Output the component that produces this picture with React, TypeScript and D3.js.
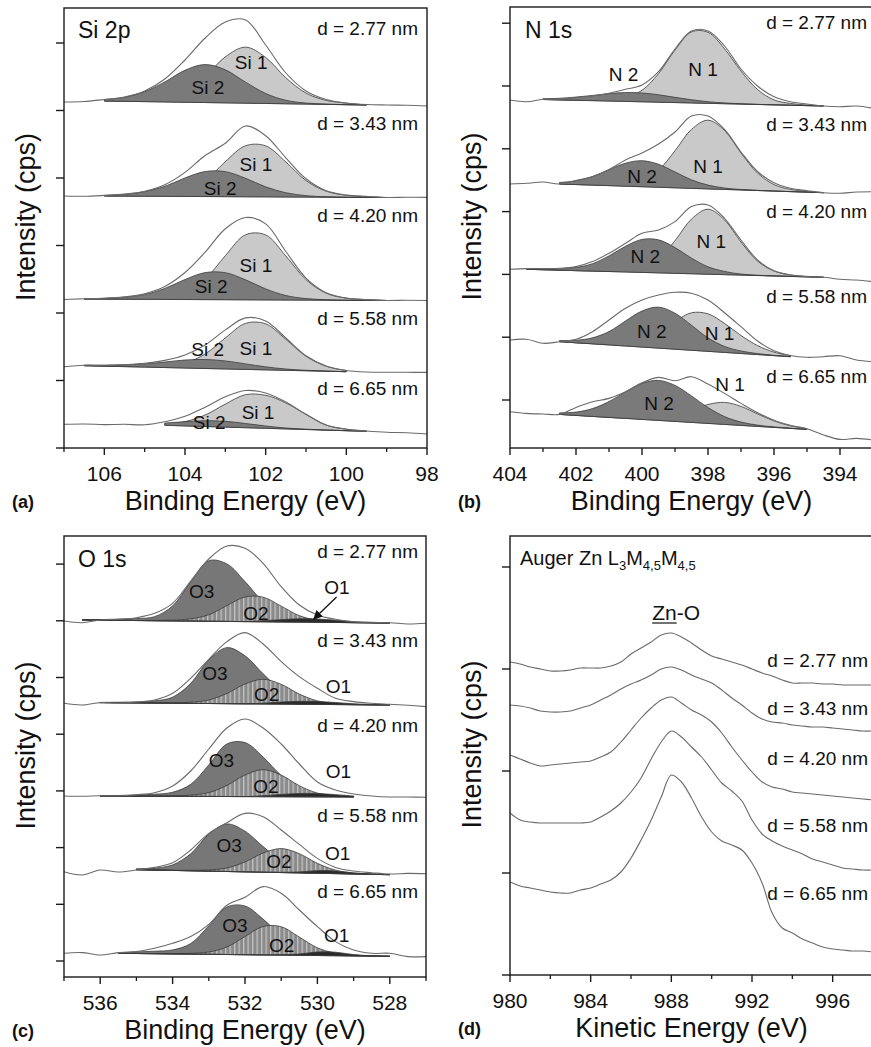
import React from 'react';
import * as d3 from 'd3';

const FONT = '"Liberation Sans", Arial, Helvetica, sans-serif';
const STEP = 0.5;

const thickness = ['d = 2.77 nm', 'd = 3.43 nm', 'd = 4.20 nm', 'd = 5.58 nm', 'd = 6.65 nm'];

// ---------- (a) Si 2p ----------
const siEnergy = [107, 106.5, 106, 105.5, 105, 104.5, 104, 103.5, 103, 102.5, 102, 101.5, 101, 100.5, 100, 99.5, 99, 98.5, 98];
const siOffset = [346, 252, 148.5, 81.3, 23.7];
const siRaw = [
  [0, 0.5, 2.5, 5, 11, 23, 42, 64, 80, 82, 57, 29, 11, 2.5, -1, -2.5, -3, -3.3, -4],
  [0, -0.3, 0.6, 1.9, 4.8, 11.3, 23.6, 40.5, 52.8, 70, 60.3, 38.2, 17.2, 5.2, 1, -0.4, -1.5, -1.3, -1.4],
  [0, 0.8, 1.2, 2.6, 5.8, 13, 27, 47.4, 70.8, 82, 75.6, 48, 21.4, 6.8, 1.4, -0.1, -1, -0.8, -1],
  [0, 1.5, 1.4, 2.1, 3.4, 6.3, 11.7, 21.7, 36.8, 48.8, 45.8, 28.7, 10.9, 0.7, -3.8, -5.3, -5.5, -5.6, -5.7],
  [0, 0.3, -0.3, 0, -0.5, 2.5, 8, 17, 27.5, 33.8, 31.3, 22.3, 10.1, -0.8, -4.9, -6.7, -8, -8.5, -9.7],
];
// background line of each fit: [E start, level, E end, level]
const siBg = [
  [106, 1, 99.5, -3],
  [106, 0, 99, -1.5],
  [106.5, 0.5, 99, -1],
  [106.5, 1, 100, -5],
  [104.5, -1, 99.5, -7],
];
const si1 = [
  [0, 0.2, 0.8, 3, 10, 26, 46, 56, 46, 26, 11, 4, 1.5, 0],
  [0, 0.2, 0.6, 1.8, 5.5, 16, 35, 51, 51, 35, 16.5, 6, 2, 0.8, 0],
  [0, 0, 0.3, 0.8, 2, 7, 20.5, 44, 65, 65, 44, 20.5, 7, 2.2, 0.8, 0],
  [0, 0, 0.2, 0.6, 1.6, 5, 14.5, 31, 46, 46, 31, 14.5, 5, 1.2],
  [1.2, 4.3, 11.5, 23, 33, 33, 26, 15, 5, 1.5, 0.3],
];
const si2 = [
  [1.5, 4, 10, 20, 32, 38, 33, 21, 10, 3.5, 1, 0.3, 0, 0],
  [0.6, 1.8, 4.5, 10, 18.5, 25, 25, 18.5, 10, 4.2, 1.4, 0.4, 0, 0, 0],
  [0.3, 0.8, 2, 4.8, 11, 20, 27, 27, 20, 11, 4.5, 1.5, 0.5, 0, 0, 0],
  [0.5, 0.9, 1.8, 3.2, 5.5, 8, 9, 8, 5.5, 3, 1.3, 0.5, 0.2, 0],
  [2.3, 4.2, 5.8, 5.8, 4.2, 2.3, 0.9, 0.3, 0, 0, 0],
];
const siLabels: [string, number, number][][] = [
  [['Si 1', 102.36, 40], ['Si 2', 103.43, 15]],
  [['Si 1', 102.24, 32], ['Si 2', 103.13, 8]],
  [['Si 1', 102.24, 34.5], ['Si 2', 103.35, 13]],
  [['Si 1', 102.24, 18], ['Si 2', 103.44, 17]],
  [['Si 1', 102.19, 12], ['Si 2', 103.4, 2]],
];
const siTicksX = [106, 104, 102, 100, 98];
const siMinorX = [107, 105, 103, 101, 99];
const siTicksY = [0, 67.5, 135, 202.5, 270, 337.5, 405];
const siLabelY = [413, 318, 226, 123, 53];

// ---------- (b) N 1s ----------
const nEnergy = [404, 403.5, 403, 402.5, 402, 401.5, 401, 400.5, 400, 399.5, 399, 398.5, 398, 397.5, 397, 396.5, 396, 395.5, 395, 394.5, 394, 393.5, 393];
const nOffset = [348, 264, 178.7, 108, 36.3];
const nRaw = [
  [0, -1.7, 0.7, 1, 2.3, 4, 6.7, 10.7, 15, 28.3, 51, 69, 69, 54, 31, 14, 3.3, -1.7, -4, -6, -6.7, -6, -8.3],
  [0, 0.7, 2, 0, 3.5, 7.5, 14.5, 24, 31, 40, 52, 68, 68, 54.5, 32, 12.5, 1.3, -4.3, -6.7, -8.7, -9.3, -8, -7.7],
  [0, 0.7, 0.7, 1, 2.7, 7.7, 16, 26, 36, 39.3, 47.7, 62.7, 64.3, 51, 29.3, 9.3, -1.5, -5.7, -7.3, -8, -10, -10.7, -12.3],
  [0, 0.7, -3.3, -1.7, 0.7, 8.3, 20, 31.7, 40, 45, 47.7, 46.7, 40, 27.3, 13.3, -1, -10.7, -15.5, -17.3, -16.7, -15.7, -20, -21.7],
  [0, -1.7, -2.3, -2.7, 4.3, 10, 13.3, 20, 29, 34.3, 31, 35, 27.7, 18.3, 8.3, -1, -8.5, -13.5, -17, -23.3, -27.7, -26.7, -28.3],
];
const nBg = [
  [403, 0.5, 394.5, -6],
  [402.5, 0, 394.5, -8.7],
  [403.5, 0, 394.5, -8],
  [402.5, -1.7, 395.5, -16.7],
  [402.5, -2.7, 395, -17.7],
];
const n1 = [
  [0, 0, 0.2, 0.5, 1.2, 3.8, 11.5, 28.5, 52.5, 71, 71, 55, 33, 15, 5, 1.8, 0.6, 0],
  [0, 0, 0.2, 0.6, 1.8, 6, 17, 37, 59, 68.7, 59, 37, 17.5, 6.5, 2.2, 0.8, 0],
  [0, 0, 0, 0, 0.1, 0.3, 1.2, 4.5, 14, 32.6, 54.7, 65, 54.7, 33, 14.5, 5, 1.5, 0.5, 0],
  [0, 0, 0.2, 0.6, 2, 6, 15, 27.6, 37.5, 37.5, 29, 18, 9, 3.5, 1],
  [0, 0, 0, 0, 0.2, 0.7, 2.2, 5.8, 12, 18.9, 22, 19, 12.5, 6.5, 2.5, 0.8],
];
const n2 = [
  [0.8, 1.6, 3.2, 5.2, 7.4, 8.8, 8.8, 7.4, 5.2, 3.2, 1.6, 0.8, 0.3, 0.1, 0, 0, 0, 0],
  [1.5, 3.8, 8.5, 15.8, 23, 26, 23, 15.8, 8.5, 3.8, 1.4, 0.5, 0.2, 0, 0, 0, 0],
  [0.4, 0.6, 1.3, 3.2, 7.4, 15.6, 25.7, 33, 33, 25.7, 15.6, 7.4, 3.2, 1, 0.3, 0, 0, 0, 0],
  [1.2, 2.5, 6, 13.3, 25, 36, 41, 36, 25, 13.5, 6, 2.5, 1, 0.3, 0],
  [1.5, 3.3, 7.8, 15.8, 26.5, 36, 40, 36, 26.5, 15.8, 7.8, 3.3, 1.3, 0.5, 0.2, 0],
];
const nLabels: [string, number, number][][] = [
  [['N 2', 400.56, 26], ['N 1', 398.15, 31]],
  [['N 2', 400.0, 8], ['N 1', 398.0, 18]],
  [['N 2', 399.9, 12.7], ['N 1', 397.9, 27.7]],
  [['N 2', 399.7, 8.3], ['N 1', 397.65, 6.7]],
  [['N 2', 399.48, 8.4], ['N 1', 397.33, 27.7]],
];
const nTicksX = [404, 402, 400, 398, 396, 394];
const nMinorX = [403, 401, 399, 397, 395, 393];
const nTicksY = [48, 110.8, 173.6, 236.4, 299.2, 362, 424.8];
const nLabelY = [418.7, 317, 229.7, 144.7, 64.7];

// ---------- (c) O 1s ----------
const oEnergy = [537, 536.5, 536, 535.5, 535, 534.5, 534, 533.5, 533, 532.5, 532, 531.5, 531, 530.5, 530, 529.5, 529, 528.5, 528, 527.5, 527];
const oOffset = [356, 273.7, 181, 105.3, 23.7];
const oRaw = [
  [0, -1.7, 1, 1.7, 3.3, 7.7, 17.7, 40, 62, 75, 72.7, 57.7, 34.3, 16, 6, 1.7, -0.7, -1.3, -1.7, -3, -2.3],
  [0, -1.7, 0.7, 0.3, 1.3, 3.3, 10, 25, 44, 61.7, 70.7, 59.3, 41.7, 26.7, 15, 5, 1.7, 0, -1, -2, -3.3],
  [0, -0.3, 0.3, 0.3, 1.3, 3.3, 10, 25, 47, 68, 77, 68, 52, 32, 14, 6, 2, 0, -1, -1, -1.3],
  [0, -3.3, 1.7, -0.3, 1.7, 4.3, 9, 21.7, 38.3, 49, 58.3, 55, 41.7, 27.3, 13.3, 4.3, 0.7, -1, -2.3, -1.7, -2],
  [0, 0.7, -1.7, 0.7, 1.7, 5, 10, 16.7, 29, 48, 56, 66.7, 60, 43.3, 26.7, 11.7, 3.3, 0, 0, -3.3, -3.3],
];
const oBg = [
  [536.5, 1, 528, -2],
  [536, 0.7, 528, -1.7],
  [536, 0, 529, -1],
  [535, 2, 528, -3],
  [535.5, 0, 528, -3],
];
const o3 = [
  [0.3, 0.6, 1.2, 2, 4, 15, 39, 60.5, 57.5, 40, 20, 7.5, 2.2, 0.6, 0.2, 0, 0, 0],
  [0.2, 0.5, 1, 2.2, 6, 20, 43.4, 56, 48, 30.2, 14, 4.8, 1.2, 0.3, 0, 0, 0],
  [0.3, 0.6, 1.2, 2, 4, 12, 31.5, 52.5, 54, 39.6, 21.3, 8.5, 2.6, 0.8, 0.2],
  [1, 2, 5.5, 17, 36.8, 47.5, 40.7, 25.6, 12, 4.3, 1.3, 0.4, 0, 0, 0],
  [0.8, 1.5, 2.5, 4, 10.5, 28.5, 47.5, 48.7, 35.8, 19.3, 7.6, 2.3, 0.6, 0.1, 0, 0],
];
const o2 = [
  [0, 0, 0, 0, 0.3, 0.8, 2.2, 6.5, 15.8, 24.6, 24.6, 15.8, 6.5, 2, 0.5, 0.1, 0, 0],
  [0, 0, 0, 0.1, 0.4, 1.2, 3.5, 10.2, 19.8, 24.7, 19.8, 10.2, 3.5, 1, 0.3, 0.1, 0],
  [0, 0, 0, 0.1, 0.4, 1.3, 3.8, 11.1, 21.6, 27, 21.6, 11.1, 3.8, 1.2, 0.3],
  [0, 0, 0.1, 0.4, 1.2, 3.5, 9.9, 19.2, 24, 19.2, 9.9, 3.5, 1, 0.3, 0.1],
  [0, 0, 0.1, 0.3, 0.8, 2.3, 7.5, 18.2, 28.4, 28.4, 18.2, 7.7, 2.5, 0.8, 0.2, 0],
];
const o1 = [
  [0, 0, 0, 0, 0, 0, 0, 0, 0, 0, 1, 2.3, 3.3, 3.3, 2.3, 1, 0.3, 0.1],
  [0, 0, 0, 0, 0, 0, 0, 0, 0, 0.8, 2, 2.9, 2.9, 2, 0.9, 0.3, 0.1],
  [0, 0, 0, 0, 0, 0, 0, 0, 0, 0.9, 2.3, 3.3, 3.3, 2.3, 1],
  [0, 0, 0, 0, 0, 0, 0, 0, 0.3, 1, 2.6, 2.6, 1, 0.3, 0.1],
  [0, 0, 0, 0, 0, 0, 0, 0, 0, 0.4, 1.3, 3.5, 3.5, 1.3, 0.4, 0.1],
];
const oLabels: [string, number, number][][] = [
  [['O3', 533.2, 30], ['O2', 531.7, 8], ['O1', 529.46, 34]],
  [['O3', 532.83, 30], ['O2', 531.4, 9.3], ['O1', 529.42, 17.3]],
  [['O3', 532.65, 36], ['O2', 531.42, 9.3], ['O1', 529.42, 24.3]],
  [['O3', 532.44, 26], ['O2', 531.06, 10], ['O1', 529.44, 18.4]],
  [['O3', 532.28, 28.3], ['O2', 530.99, 8.3], ['O1', 529.47, 18.3]],
];
const oTicksX = [536, 534, 532, 530, 528];
const oMinorX = [537, 535, 533, 531, 529, 527];
const oTicksY = [16, 72.7, 129.4, 186.1, 242.8, 299.5, 356.2, 412.9];
const oLabelY = [418.7, 330.3, 245.3, 155.3, 78.7];

// ---------- (d) Auger Zn LMM ----------
const znEnergy = [980, 980.5, 981, 981.5, 982, 982.5, 983, 983.5, 984, 984.5, 985, 985.5, 986, 986.5, 987, 987.5, 988, 988.5, 989, 989.5, 990, 990.5, 991, 991.5, 992, 992.5, 993, 993.5, 994, 994.5, 995, 995.5, 996, 996.5, 997, 997.5, 998];
const znOffset = [0, 0, 0, 0, 0];
const znRaw = [
  [313, 311, 308, 306, 304, 304, 305, 307, 307, 307, 309, 313, 321, 327, 333, 340, 342, 338, 332, 325, 319, 316, 313, 310, 306, 302, 299, 295, 292, 292, 292, 291, 291, 290, 290, 290, 290],
  [270, 269, 267, 264, 263, 263, 264, 267, 270, 275, 280, 286, 291, 295, 300, 306, 308, 305, 300, 296, 292, 285, 277, 270, 262, 256, 253, 252, 250, 249, 248, 248, 247, 246, 245, 244, 244],
  [220, 216, 212, 209, 210, 211, 212, 213, 214, 218, 223, 233, 245, 257, 267, 275, 278, 272, 265, 260, 253, 242, 228, 215, 203, 193, 188, 186, 183, 182, 181, 180, 179, 178, 177, 176, 175],
  [162, 155, 153, 152, 152, 152, 152, 152, 153, 158, 164, 172, 183, 197, 216, 233, 244, 238, 228, 218, 205, 192, 184, 174, 155, 141, 134, 129, 125, 121, 116, 113, 110, 107, 106, 105, 105],
  [93, 89, 87, 85, 83, 82, 82, 85, 87, 91, 95, 103, 117, 135, 155, 178, 200, 193, 177, 158, 143, 134, 130, 125, 112, 92, 62, 47, 42, 36, 32, 28, 26, 25, 24, 24, 23],
];
const znTicksX = [980, 984, 988, 992, 996];
const znMinorX = [982, 986, 990, 994, 998];
const znTicksY = [0, 102, 204, 306, 408];
const znLabelY = [308.3, 260, 210, 143.3, 75];

type Box = { left: number; top: number; right: number; bottom: number };
type Scale = d3.ScaleLinear<number, number>;

interface PanelProps {
  id: string;
  box: Box;
  xDomain: [number, number];
  xMajor: number[];
  xMinor: number[];
  yTicks: number[];
  energy: number[];
  offsets: number[];
  raw: number[][];
  bgs?: number[][];
  comps?: number[][][];
  fills?: string[];
  labels?: [string, number, number][][];
  dY: number[];
  dRight: number;
  letter: string;
  xTitle: string;
  head: React.ReactNode;
  extra?: (x: Scale, y: Scale) => React.ReactNode;
}

function StackPanel(p: PanelProps) {
  const { box } = p;
  const x = d3.scaleLinear().domain(p.xDomain).range([box.left, box.right]);
  const y = d3.scaleLinear().domain([0, box.bottom - box.top]).range([box.bottom, box.top]);
  const smooth = d3.curveCatmullRom.alpha(0.5);
  const rawLine = d3
    .line<number>()
    .x((_, i) => x(p.energy[i]))
    .y((d) => y(d))
    .curve(smooth);
  const compArea = d3
    .area<{ e: number; lo: number; hi: number }>()
    .x((d) => x(d.e))
    .y0((d) => y(d.lo))
    .y1((d) => y(d.hi))
    .curve(smooth);
  const clip = `clip-${p.id}`;
  const cx = (box.left + box.right) / 2;
  const w = box.right - box.left;
  const h = box.bottom - box.top;

  return (
    <g>
      <defs>
        <clipPath id={clip}>
          <rect x={box.left} y={box.top} width={w} height={h} />
        </clipPath>
      </defs>
      <g clipPath={`url(#${clip})`}>
        {p.raw.map((r, i) => {
          const off = p.offsets[i];
          const bg = p.bgs ? p.bgs[i] : null;
          const bgLevel = bg ? d3.scaleLinear().domain([bg[0], bg[2]]).range([bg[1], bg[3]]) : null;
          return (
            <g key={i}>
              {bg &&
                bgLevel &&
                p.comps &&
                p.comps.map((c, j) => {
                  const pts = c[i].map((v, k) => {
                    const e = bg[0] - k * STEP;
                    const lo = off + bgLevel(e);
                    return { e, lo, hi: lo + v };
                  });
                  return (
                    <path
                      key={j}
                      d={compArea(pts) || ''}
                      fill={p.fills ? p.fills[j] : '#999'}
                      stroke="#3a3a3a"
                      strokeWidth={0.8}
                    />
                  );
                })}
              <path d={rawLine(r.map((v) => off + v)) || ''} fill="none" stroke="#6a6a6a" strokeWidth={1.1} />
              {p.labels &&
                p.labels[i].map(([t, e, hh], k) => (
                  <text key={k} x={x(e)} y={y(off + hh)} dy="0.35em" textAnchor="middle" fontSize={19} fill="#111">
                    {t}
                  </text>
                ))}
            </g>
          );
        })}
        {p.extra && p.extra(x, y)}
      </g>

      {thickness.map((t, i) => (
        <text key={t} x={box.right - p.dRight} y={y(p.dY[i])} textAnchor="end" fontSize={19} fill="#111">
          {t}
        </text>
      ))}

      {p.head}

      {/* frame */}
      <rect x={box.left} y={box.top} width={w} height={h} fill="none" stroke="#1a1a1a" strokeWidth={1.4} />

      {/* y ticks */}
      {p.yTicks.map((t) => (
        <line key={t} x1={box.left - 8} x2={box.left} y1={y(t)} y2={y(t)} stroke="#1a1a1a" strokeWidth={1.4} />
      ))}

      {/* x ticks */}
      {p.xMinor.map((t) => (
        <line key={'m' + t} x1={x(t)} x2={x(t)} y1={box.bottom} y2={box.bottom + 4} stroke="#1a1a1a" strokeWidth={1.3} />
      ))}
      {p.xMajor.map((t) => (
        <g key={'M' + t}>
          <line x1={x(t)} x2={x(t)} y1={box.bottom} y2={box.bottom + 7} stroke="#1a1a1a" strokeWidth={1.4} />
          <text x={x(t)} y={box.bottom + 33} textAnchor="middle" fontSize={21} fill="#111">
            {t}
          </text>
        </g>
      ))}

      <text x={cx} y={box.bottom + 62} textAnchor="middle" fontSize={27} fill="#111">
        {p.xTitle}
      </text>
      <text
        transform={`translate(${box.left - 29},${(box.top + box.bottom) / 2 - 11}) rotate(-90)`}
        textAnchor="middle"
        fontSize={27}
        fill="#111"
      >
        Intensity (cps)
      </text>
      <text x={box.left - 52} y={box.bottom + 60} fontSize={18} fontWeight="bold" fill="#111">
        {p.letter}
      </text>
    </g>
  );
}

const boxA: Box = { left: 64, top: 8, right: 427, bottom: 448 };
const boxB: Box = { left: 510, top: 7, right: 873, bottom: 448 };
const boxC: Box = { left: 64, top: 536, right: 426, bottom: 977 };
const boxD: Box = { left: 510, top: 536, right: 873, bottom: 975 };

const lightFill = '#c9c9c9';
const darkFill = '#7a7a7a';

export default function App() {
  return (
    <div style={{ position: 'absolute', left: 0, top: 0, width: 871, height: 1047, background: '#fff' }}>
      <svg width={871} height={1047} style={{ display: 'block', fontFamily: FONT }}>
        <defs>
          <pattern id="hatch" width={4.5} height={10} patternUnits="userSpaceOnUse">
            <rect width={4.5} height={10} fill="#8a8a8a" />
            <rect x={0} width={1.3} height={10} fill="#c2c2c2" />
          </pattern>
          <marker id="arrowHead" viewBox="0 0 10 10" refX={9} refY={5} markerWidth={7} markerHeight={7} orient="auto">
            <path d="M0,0 L10,5 L0,10 z" fill="#111" />
          </marker>
        </defs>

        <StackPanel
          id="a"
          box={boxA}
          xDomain={[107, 98]}
          xMajor={siTicksX}
          xMinor={siMinorX}
          yTicks={siTicksY}
          energy={siEnergy}
          offsets={siOffset}
          raw={siRaw}
          bgs={siBg}
          comps={[si1, si2]}
          fills={[lightFill, darkFill]}
          labels={siLabels}
          dY={siLabelY}
          dRight={9}
          letter="(a)"
          xTitle="Binding Energy (eV)"
          head={
            <text x={boxA.left + 14} y={boxA.top + 30} fontSize={23} fill="#111">
              Si 2p
            </text>
          }
        />

        <StackPanel
          id="b"
          box={boxB}
          xDomain={[404, 393]}
          xMajor={nTicksX}
          xMinor={nMinorX}
          yTicks={nTicksY}
          energy={nEnergy}
          offsets={nOffset}
          raw={nRaw}
          bgs={nBg}
          comps={[n1, n2]}
          fills={[lightFill, darkFill]}
          labels={nLabels}
          dY={nLabelY}
          dRight={6}
          letter="(b)"
          xTitle="Binding Energy (eV)"
          head={
            <text x={boxB.left + 15} y={boxB.top + 31} fontSize={23} fill="#111">
              N 1s
            </text>
          }
        />

        <StackPanel
          id="c"
          box={boxC}
          xDomain={[537, 527]}
          xMajor={oTicksX}
          xMinor={oMinorX}
          yTicks={oTicksY}
          energy={oEnergy}
          offsets={oOffset}
          raw={oRaw}
          bgs={oBg}
          comps={[o3, o2, o1]}
          fills={['#777777', 'url(#hatch)', '#2a2a2a']}
          labels={oLabels}
          dY={oLabelY}
          dRight={8}
          letter="(c)"
          xTitle="Binding Energy (eV)"
          head={
            <text x={boxC.left + 14} y={boxC.top + 31} fontSize={23} fill="#111">
              O 1s
            </text>
          }
          extra={(x, y) => (
            <line
              x1={x(529.47)}
              y1={y(oOffset[0] + 24)}
              x2={x(530.1)}
              y2={y(oOffset[0] + 2)}
              stroke="#111"
              strokeWidth={1.3}
              markerEnd="url(#arrowHead)"
            />
          )}
        />

        <StackPanel
          id="d"
          box={boxD}
          xDomain={[980, 998]}
          xMajor={znTicksX}
          xMinor={znMinorX}
          yTicks={znTicksY}
          energy={znEnergy}
          offsets={znOffset}
          raw={znRaw}
          dY={znLabelY}
          dRight={5}
          letter="(d)"
          xTitle="Kinetic Energy (eV)"
          head={
            <text x={boxD.left + 10} y={boxD.top + 29} fontSize={20} fill="#111">
              <tspan>Auger Zn L</tspan>
              <tspan dy={5} fontSize={13}>3</tspan>
              <tspan dy={-5}>M</tspan>
              <tspan dy={5} fontSize={13}>4,5</tspan>
              <tspan dy={-5}>M</tspan>
              <tspan dy={5} fontSize={13}>4,5</tspan>
            </text>
          }
          extra={(x, y) => (
            <g>
              <text x={x(987.05)} y={y(355)} fontSize={21} fill="#111">
                Zn-O
              </text>
              <line x1={x(987.05)} x2={x(987.05) + 24.5} y1={y(355) + 3} y2={y(355) + 3} stroke="#111" strokeWidth={1.2} />
            </g>
          )}
        />
      </svg>
    </div>
  );
}
